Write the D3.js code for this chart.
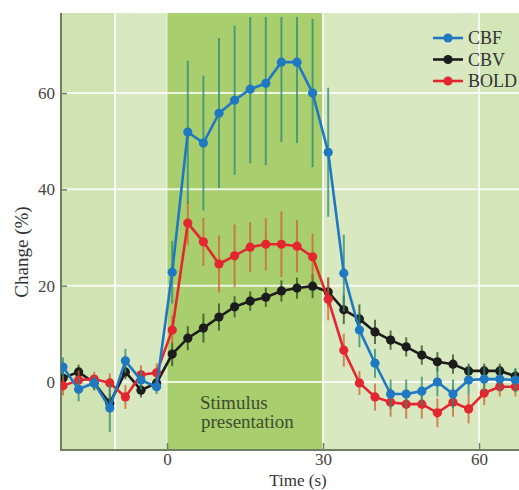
<!DOCTYPE html>
<html><head><meta charset="utf-8">
<script src="https://cdn.jsdelivr.net/npm/d3@7"></script>
<style>html,body{margin:0;padding:0;background:#fff;}svg{display:block;}</style>
</head><body>
<svg id="c" width="519" height="490"></svg>
<script>
const times = [-20,-17,-14,-11,-8,-5,-2,1,4,7,10,13,16,19,22,25,28,31,34,37,40,43,46,49,52,55,58,61,64,67];
const cbf = [3.1,-1.5,-0.2,-5.4,4.4,0.4,-1,22.8,51.9,49.6,55.8,58.5,60.8,62,66.4,66.4,60,47.7,22.6,10.8,3.9,-2.5,-2.5,-1.9,0,-2.5,0.4,0.6,0.6,0.4];
const cbfErr = [2,2.5,1.5,5,2.5,2,1.5,6.5,14.8,14,15.6,15.5,15.4,17,16.6,16.8,15.4,13.4,8,3.6,3,3,3,3,3,3,3,2.5,2.5,2.5];
const cbv = [0.8,2.1,-0.2,-4.4,2.1,-1.7,-0.2,5.8,9.1,11.2,13.5,15.6,16.8,17.6,18.9,19.5,19.9,18.7,15,13.1,10.4,8.7,7.3,5.6,4.2,3.7,2.3,2.3,2.3,1.2];
const cbvErr = [1.5,1.5,1.5,2,1.5,1.5,1.5,2.5,2.5,3,2.8,2.2,2,2,2.2,2.2,2.5,3,3,3,2.5,2,2,2,2,2,1.5,1.5,1.5,1.5];
const bold = [-0.8,0.4,0.6,-0.2,-3.1,1.5,1.9,10.8,33,29.1,24.5,26.2,28,28.6,28.6,28.2,26,17.2,6.6,-0.2,-3.1,-4.2,-4.6,-4.6,-6.4,-4.2,-5.6,-2.3,-1,-1];
const boldErr = [2,2,1.5,2,2.5,2,2,3,4.5,5,5.9,6.5,5.2,5.4,6.8,5.4,4.8,4.4,3.4,2.5,2.8,3,3,3,3,3,3,2.5,2,2];
const seriesNames = ["CBF","CBV","BOLD"];
const xTicks = [0,30,60];
const yTicks = [0,20,40,60];
const xLabel = "Time (s)";
const yLabel = "Change (%)";
const stimLabel = ["Stimulus","presentation"];

const FONT = "Liberation Serif, serif";
const svg = d3.select("#c");
const L = 61, R = 530, T = 13, B = 450;
const x = d3.scaleLinear().domain([0,60]).range([167,479]);
const y = d3.scaleLinear().domain([0,60]).range([382,93]);
const xMin = x.invert(L), xMax = x.invert(R);

svg.append("defs").append("clipPath").attr("id","clip")
  .append("rect").attr("x",L).attr("y",T+4).attr("width",R-L).attr("height",B-T-4);

// background bands
const bands = [[xMin,-10,"#d0e3b3"],[-10,0,"#d8e8c0"],[0,30,"#a8ce6d"],[30,60,"#d8e8c0"],[60,xMax,"#d3e6b8"]];
svg.append("g").selectAll("rect").data(bands).join("rect")
  .attr("x",d=>x(d[0])).attr("width",d=>x(d[1])-x(d[0]))
  .attr("y",T).attr("height",B-T).attr("fill",d=>d[2]);

// grid
const g = svg.append("g").attr("stroke","#ffffff").attr("stroke-opacity",0.8).attr("stroke-width",2);
g.selectAll("line.h").data(yTicks).join("line").attr("class","h")
  .attr("x1",L).attr("x2",R).attr("y1",d=>y(d)).attr("y2",d=>y(d));
g.selectAll("line.v").data([-10,0,30,60]).join("line").attr("class","v")
  .attr("y1",T).attr("y2",B).attr("x1",d=>x(d)).attr("x2",d=>x(d))
  .attr("stroke-opacity",d=>d===0?0.35:0.8);

// stimulus label
const st = svg.append("text").attr("font-family",FONT).attr("font-size",19).attr("fill","#3d4d30");
st.append("tspan").attr("x",200).attr("y",409).text(stimLabel[0]);
st.append("tspan").attr("x",201).attr("y",428).text(stimLabel[1]);

// axes
const axCol = "#6f7f62";
const yAxis = svg.append("g").attr("transform",`translate(${L},0)`)
  .call(d3.axisLeft(y).tickValues(yTicks).tickSize(-6).tickPadding(7).tickFormat(d3.format("d")));
const xAxis = svg.append("g").attr("transform",`translate(0,${B})`)
  .call(d3.axisBottom(x).tickValues(xTicks).tickSize(-7).tickPadding(6).tickFormat(d3.format("d")));
[xAxis,yAxis].forEach(a=>{
  a.select(".domain").remove();
  a.selectAll(".tick line").attr("stroke",axCol).attr("stroke-width",1.5);
  a.selectAll(".tick text").attr("font-family",FONT).attr("font-size",17).attr("fill","#444");
});
yAxis.selectAll(".tick").filter(d=>d===0).select("line").remove();
yAxis.selectAll(".tick text").attr("x",-6);
xAxis.selectAll(".tick text").attr("y",3);
svg.append("line").attr("x1",L).attr("x2",L).attr("y1",T).attr("y2",B+1).attr("stroke",axCol).attr("stroke-width",2);
svg.append("line").attr("x1",L).attr("x2",R).attr("y1",B).attr("y2",B).attr("stroke",axCol).attr("stroke-width",2);

svg.append("text").attr("x",298).attr("y",486).attr("text-anchor","middle")
  .attr("font-family",FONT).attr("font-size",17).attr("fill","#333").text(xLabel);
svg.append("text").attr("transform","translate(28,252) rotate(-90)").attr("text-anchor","middle")
  .attr("font-family",FONT).attr("font-size",19).attr("fill","#333").text(yLabel);

// series
const series = [
  {name:"CBV", vals:cbv, err:cbvErr, color:"#1c1c1c", errColor:"#2e4a22"},
  {name:"BOLD", vals:bold, err:boldErr, color:"#e3262f", errColor:"#d0632e"},
  {name:"CBF", vals:cbf, err:cbfErr, color:"#1f78c2", errColor:"#2f8a78"}
];
const plot = svg.append("g").attr("clip-path","url(#clip)");
series.forEach(s=>{
  const data = times.map((t,i)=>({t, v:s.vals[i], e:s.err[i]}));
  const gs = plot.append("g");
  gs.selectAll("line").data(data).join("line")
    .attr("x1",d=>x(d.t)).attr("x2",d=>x(d.t))
    .attr("y1",d=>y(d.v+d.e)).attr("y2",d=>y(d.v-d.e))
    .attr("stroke",s.errColor).attr("stroke-opacity",0.75).attr("stroke-width",2);
  gs.append("path").datum(data)
    .attr("d",d3.line().x(d=>x(d.t)).y(d=>y(d.v)))
    .attr("fill","none").attr("stroke",s.color).attr("stroke-width",2.6);
  gs.selectAll("circle").data(data).join("circle")
    .attr("cx",d=>x(d.t)).attr("cy",d=>y(d.v)).attr("r",4.6).attr("fill",s.color);
});

// legend
const legColors = {CBF:"#1f78c2", CBV:"#1c1c1c", BOLD:"#e3262f"};
const leg = svg.append("g");
seriesNames.forEach((n,i)=>{
  const yy = 38 + i*21.5;
  leg.append("line").attr("x1",433).attr("x2",463).attr("y1",yy).attr("y2",yy).attr("stroke",legColors[n]).attr("stroke-width",2.6);
  leg.append("circle").attr("cx",448).attr("cy",yy).attr("r",4.6).attr("fill",legColors[n]);
  leg.append("text").attr("x",468).attr("y",yy+6).attr("font-family",FONT).attr("font-size",18).attr("fill","#333").text(n);
});
</script>
</body></html>
